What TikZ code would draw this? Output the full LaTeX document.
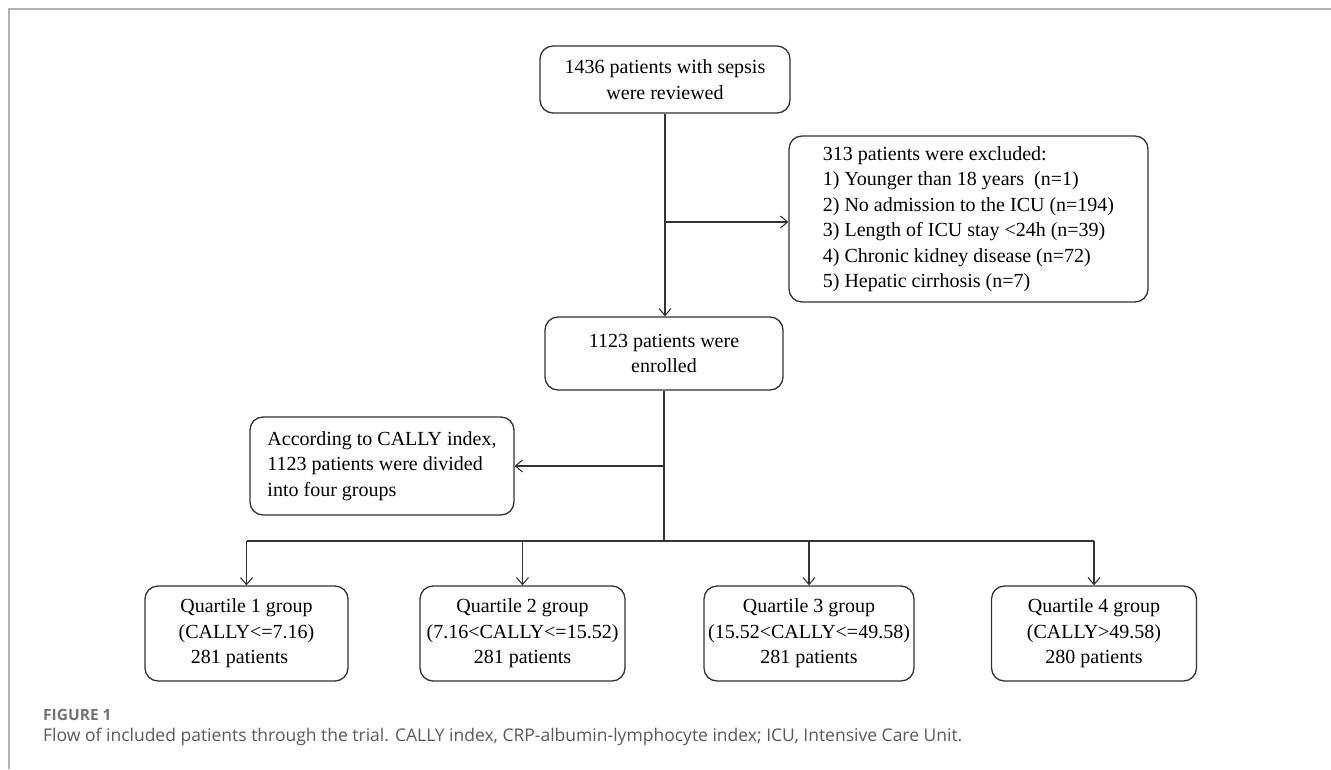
\documentclass[tikz,border=0pt]{standalone}
\usepackage{fontspec}
\setmainfont{Liberation Serif}
\newfontfamily\capfont{Open Sans}
\usetikzlibrary{arrows.meta}
\begin{document}
\begin{tikzpicture}[x=1pt,y=-1pt,
  box/.style={draw=black!80, line width=1.3pt, rounded corners=13pt, align=center,
    font=\fontsize{20}{25.5}\selectfont, inner sep=0pt, text=black},
  conn/.style={draw=black!80, line width=1.3pt},
  arr/.style={conn, -{Straight Barb[length=7pt,width=12pt,line width=1.1pt]}}]
\useasboundingbox (0,0) rectangle (1331,769);
\draw[line width=2pt, black!30] (9,769) -- (9,9) -- (1331,9);

\node[box, minimum width=250pt, minimum height=67pt] (top) at (665,79.5)
  {1436 patients with sepsis\\were reviewed};
\node[box, align=left, minimum width=359pt, minimum height=166pt] (excl) at (968.5,219)
  {313 patients were excluded:\\1) Younger than 18 years\ \ (n=1)\\2) No admission to the ICU (n=194)\\3) Length of ICU stay <24h (n=39)\\4) Chronic kidney disease (n=72)\\5) Hepatic cirrhosis (n=7)};
\node[box, minimum width=238pt, minimum height=73pt] (enr) at (664,353.5)
  {1123 patients were\\enrolled};
\node[box, align=left, minimum width=264pt, minimum height=98pt] (cally) at (382,466)
  {According to CALLY index,\\1123 patients were divided\\into four groups};

\node[box, minimum width=203pt, minimum height=95pt] (q1) at (246.5,633.5)
  {Quartile 1 group\\(CALLY<=7.16)\\281 patients\hspace*{14pt}};
\node[box, minimum width=205pt, minimum height=95pt] (q2) at (522.5,633.5)
  {Quartile 2 group\\(7.16<CALLY<=15.52)\\281 patients};
\node[box, minimum width=210pt, minimum height=95pt] (q3) at (809,633.5)
  {Quartile 3 group\\(15.52<CALLY<=49.58)\\281 patients};
\node[box, minimum width=205pt, minimum height=95pt] (q4) at (1094,633.5)
  {Quartile 4 group\\(CALLY>49.58)\\280 patients};

\coordinate (h1) at (0,222);
\coordinate (h2) at (0,466);
\coordinate (h3) at (0,541);

\draw[arr] (top.south) -- (top.south |- enr.north);
\draw[arr] (top.south |- h1) -- (excl.west |- h1);
\draw[conn] (enr.south) -- (enr.south |- h3);
\draw[arr] (enr.south |- h2) -- (cally.east |- h2);
\draw[conn] (q1.north |- h3) -- (q4.north |- h3);
\foreach \q in {q1,q2,q3,q4} \draw[arr] (\q.north |- h3) -- (\q.north);

\node[anchor=base west, inner sep=0pt, font=\capfont\bfseries\fontsize{15.5}{18}\selectfont, text=black!55] (fig) at (43,720) {FIGURE 1};
\node[anchor=base west, inner sep=0pt, font=\capfont\fontsize{17.5}{21}\selectfont, text=black!65] (cap) at (43,741)
  {Flow of included patients through the trial. CALLY index, CRP-albumin-lymphocyte index; ICU, Intensive Care Unit.};
\end{tikzpicture}
\end{document}
